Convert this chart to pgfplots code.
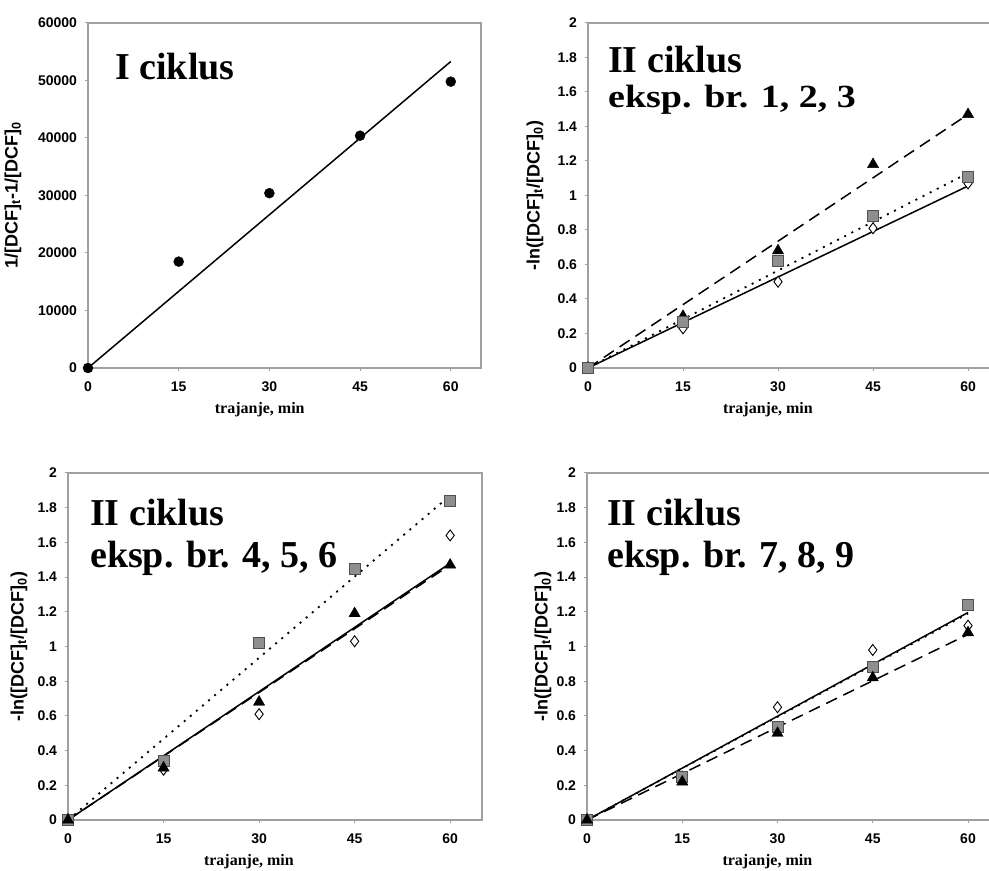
\documentclass[border=0pt]{standalone}
\usepackage{fontspec}
\setmainfont{Liberation Serif}
\newfontfamily\sansb{Liberation Sans Bold}
\usepackage{pgfplots}
\pgfplotsset{compat=1.18}
\definecolor{axgray}{HTML}{A0A0A0}
\definecolor{sqfill}{HTML}{8E8E8E}
\definecolor{sqdraw}{HTML}{505050}
\newcommand{\ylabfont}{\fontsize{18bp}{20bp}\selectfont\sansb}
\newcommand{\ttl}{\fontsize{38bp}{40bp}\selectfont\bfseries}
\pgfplotsset{
 panel/.style={
  scale only axis, xmin=0, xmax=65, xtick={0,15,30,45,60},
  axis line style={axgray, line width=1.2bp},
  tick style={axgray, line width=1bp},
  major tick length=3.5bp, tick align=outside, tick pos=left,
  clip=false,
  tick label style={font=\fontsize{14bp}{16bp}\selectfont\sansb},
  xticklabel style={yshift=-7bp},
  yticklabel style={xshift=-4bp},
  /pgf/number format/assume math mode=true,
  /pgf/number format/1000 sep={},
  scaled y ticks=false,
  xlabel={trajanje, min},
  every axis x label/.style={at={(rel axis cs:0.437,0)}, anchor=base, yshift=-46bp,
     font=\fontsize{16bp}{18bp}\selectfont\bfseries},
 },
 ylab/.style={every axis y label/.style={at={(rel axis cs:0,0.5)}, xshift=-#1, rotate=90, anchor=center, font=\ylabfont}},
 ln/.style={
  ymin=0, ymax=2, ytick={0,0.2,...,2.01},
  ylabel={-ln([DCF]\textsubscript{t}/[DCF]\textsubscript{0})},
 },
 fitl/.style={black, line width=1.5bp, no marks},
 dash/.style={fitl, dash pattern=on 12bp off 7bp},
 dott/.style={fitl, line width=1.8bp, dash pattern=on 2bp off 6bp},
 tri/.style={only marks, mark=triangle*, mark size=6.5bp, mark options={fill=black, draw=black}},
 sq/.style={only marks, mark=square*, mark size=5.5bp, mark options={fill=sqfill, draw=sqdraw, line width=0.8bp}},
 dia/.style={only marks, mark=diamond*, mark size=5.5bp, mark options={fill=white, draw=black, line width=0.9bp}},
}
\begin{document}
\begin{tikzpicture}[x=1bp,y=1bp]
\useasboundingbox (0,0) rectangle (989,871);
% Panel 1
\begin{axis}[panel, at={(88bp,503bp)}, anchor=south west, width=393bp, height=345bp,
  ymin=0, ymax=60000, ytick={0,10000,...,60000},
  ylabel={1/[DCF]\textsubscript{t}-1/[DCF]\textsubscript{0}}, ylab=75bp]
\addplot[fitl] coordinates {(0,0) (60,53300)};
\addplot[only marks, mark=*, mark size=5bp, black] coordinates {(0,0) (15,18500) (30,30400) (45,40400) (60,49800)};
\end{axis}
% Panel 2
\begin{axis}[panel, ln, at={(588bp,503bp)}, anchor=south west, width=411.7bp, height=345bp, ylab=53bp]
\addplot[dash] coordinates {(0,0) (60,1.47)};
\addplot[dott] coordinates {(0,0) (60,1.13)};
\addplot[fitl] coordinates {(0,0) (60,1.055)};
\addplot[dia] coordinates {(0,0) (15,0.23) (30,0.50) (45,0.81) (60,1.07)};
\addplot[tri] coordinates {(0,0) (15,0.30) (30,0.68) (45,1.18) (60,1.47)};
\addplot[sq] coordinates {(0,0) (15,0.27) (30,0.62) (45,0.88) (60,1.11)};
\end{axis}
% Panel 3
\begin{axis}[panel, ln, at={(68bp,51bp)}, anchor=south west, width=414bp, height=347bp, ylab=49bp]
\addplot[dott] coordinates {(0,0) (60,1.87)};
\addplot[dash] coordinates {(0,0) (60,1.47)};
\addplot[fitl] coordinates {(0,0) (60,1.48)};
\addplot[dia] coordinates {(0,0) (15,0.29) (30,0.61) (45,1.03) (60,1.64)};
\addplot[sq] coordinates {(0,0) (15,0.34) (30,1.02) (45,1.45) (60,1.84)};
\addplot[tri] coordinates {(0,0) (15,0.30) (30,0.68) (45,1.19) (60,1.47)};
\end{axis}
% Panel 4
\begin{axis}[panel, ln, at={(587bp,51bp)}, anchor=south west, width=412.75bp, height=347bp, ylab=44bp]
\addplot[dott] coordinates {(0,0) (60,1.19)};
\addplot[fitl] coordinates {(0,0) (60,1.196)};
\addplot[dash] coordinates {(0,0) (60,1.07)};
\addplot[dia] coordinates {(0,0) (15,0.25) (30,0.65) (45,0.98) (60,1.12)};
\addplot[sq] coordinates {(0,0) (15,0.25) (30,0.535) (45,0.88) (60,1.24)};
\addplot[tri] coordinates {(0,0) (15,0.22) (30,0.50) (45,0.82) (60,1.08)};
\end{axis}
% Titles
\node[anchor=base west, inner sep=0pt, font=\ttl] at (115,791) {I ciklus};
\node[anchor=base west, inner sep=0pt, font=\ttl] at (608,798) {II ciklus};
\node[anchor=base west, inner sep=0pt, font=\ttl] at (608,763) {\scalebox{1}[0.85]{eksp. br. 1, 2, 3}};
\node[anchor=base west, inner sep=0pt, font=\ttl] at (90,345) {II ciklus};
\node[anchor=base west, inner sep=0pt, font=\ttl] at (90,303) {eksp. br. 4, 5, 6};
\node[anchor=base west, inner sep=0pt, font=\ttl] at (607,345) {II ciklus};
\node[anchor=base west, inner sep=0pt, font=\ttl] at (607,303) {eksp. br. 7, 8, 9};
\end{tikzpicture}
\end{document}
